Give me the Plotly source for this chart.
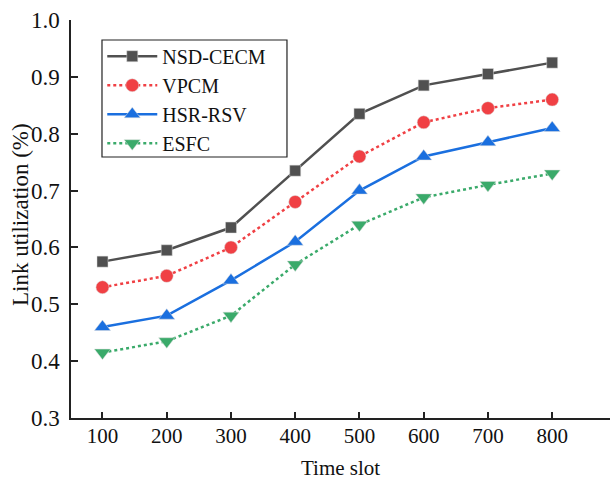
import plotly.graph_objects as go

time_slots = [100, 200, 300, 400, 500, 600, 700, 800]
nsd_cecm = [0.575, 0.595, 0.635, 0.735, 0.835, 0.885, 0.905, 0.925]
vpcm = [0.53, 0.55, 0.60, 0.68, 0.76, 0.82, 0.845, 0.86]
hsr_rsv = [0.46, 0.48, 0.542, 0.61, 0.70, 0.76, 0.785, 0.81]
esfc = [0.415, 0.435, 0.48, 0.57, 0.64, 0.688, 0.71, 0.73]

series = [
    ("NSD-CECM", nsd_cecm, "#505050", "solid", "square", 11),
    ("VPCM", vpcm, "#f04044", "dot", "circle", 13),
    ("HSR-RSV", hsr_rsv, "#1a6fdf", "solid", "triangle-up", 14),
    ("ESFC", esfc, "#3aaa6a", "dot", "triangle-down", 14),
]

fig = go.Figure()
for name, vals, color, dash, sym, size in series:
    fig.add_trace(go.Scatter(
        x=time_slots, y=vals, name=name, mode="lines+markers",
        line=dict(color=color, width=2.5, dash=dash),
        marker=dict(symbol=sym, size=size, color=color,
                    line=dict(width=0.5, color="#dddddd")),
    ))

font = "Liberation Serif"
fig.update_layout(
    width=610, height=479,
    margin=dict(l=71, r=0, t=20, b=61, autoexpand=False),
    plot_bgcolor="white", paper_bgcolor="white",
    font=dict(family=font, size=21, color="#111111"),
    showlegend=True,
    legend=dict(
        x=0.058, y=0.958, xanchor="left", yanchor="top",
        borderwidth=0, bgcolor="rgba(0,0,0,0)",
        font=dict(family=font, size=20, color="#111111"),
        tracegroupgap=0, itemwidth=50,
    ),
    shapes=[
        dict(type="rect", xref="paper", yref="paper",
             x0=0.0575, x1=0.4007, y0=0.6558, y1=0.9497,
             line=dict(color="#222222", width=1.2), fillcolor="rgba(0,0,0,0)",
             layer="above"),
    ],
    xaxis=dict(
        range=[51, 890], tickvals=time_slots,
        ticks="inside", ticklen=6, tickwidth=1.5, tickcolor="#222222",
        showline=True, linecolor="#222222", linewidth=1.5,
        showgrid=False, zeroline=False, automargin=False,
        tickfont=dict(family=font, size=21), ticklabelstandoff=-2,
    ),
    yaxis=dict(
        range=[0.3, 1.0], dtick=0.1, tickformat=".1f",
        ticks="inside", ticklen=7, tickwidth=1.5, tickcolor="#222222",
        showline=True, linecolor="#222222", linewidth=1.5,
        showgrid=False, zeroline=False, automargin=False,
        tickfont=dict(family=font, size=23), ticklabelstandoff=5,
    ),
    annotations=[
        dict(text="Time slot", xref="paper", yref="paper", x=0.5, y=0,
             yshift=-36, xanchor="center", yanchor="top", showarrow=False,
             font=dict(family=font, size=21, color="#111111")),
        dict(text="Link utilization (%)", xref="paper", yref="paper", x=0, y=0.5,
             xshift=-51, yshift=4, xanchor="center", yanchor="middle", textangle=-90,
             showarrow=False, font=dict(family=font, size=23, color="#111111")),
    ],
)

fig.write_html("out.html", config={"displayModeBar": False},
               post_script="document.body.style.margin='0px';")
